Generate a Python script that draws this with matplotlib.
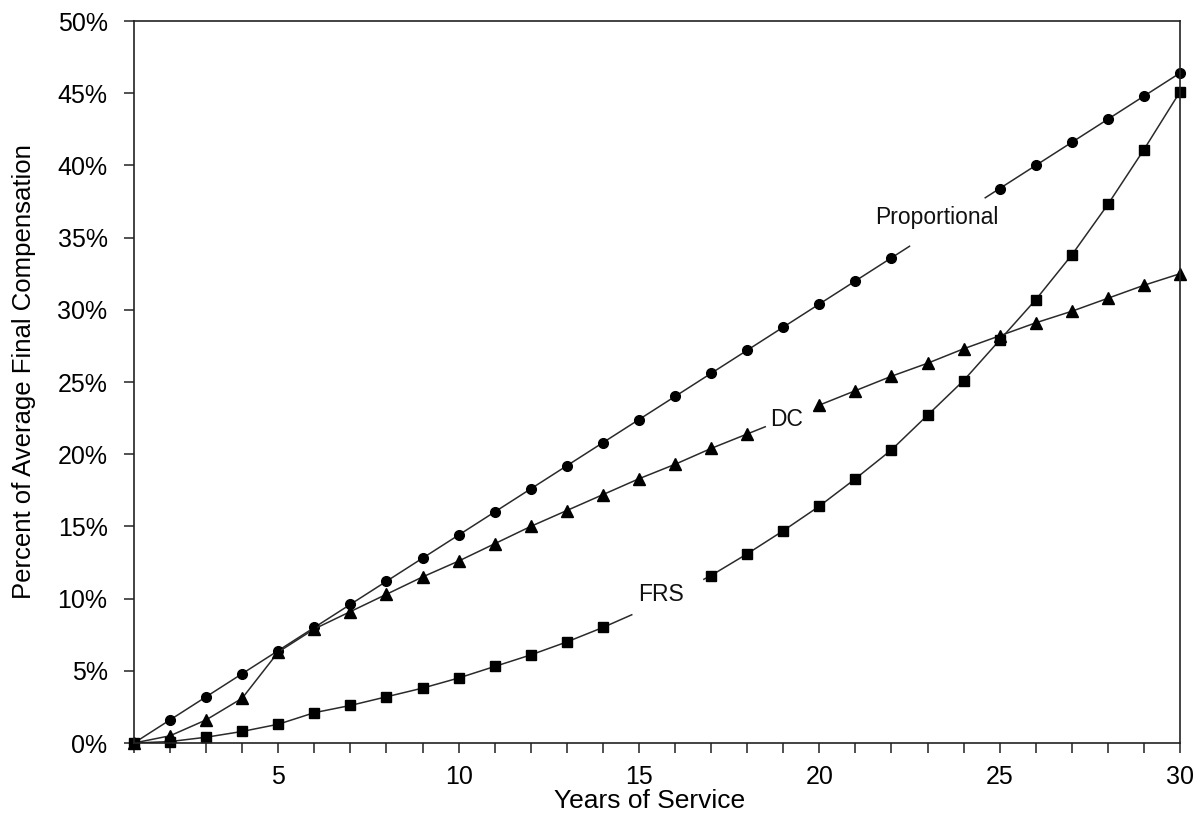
import numpy as np
import matplotlib
matplotlib.use("Agg")
import matplotlib.pyplot as plt
from matplotlib.ticker import FuncFormatter, MultipleLocator

plt.rcParams["font.family"] = ["Liberation Sans", "DejaVu Sans"]

years = np.arange(1, 31).astype(float)

proportional = [0.0, 1.6, 3.2, 4.8, 6.4, 8.0, 9.6, 11.2, 12.8, 14.4,
                16.0, 17.6, 19.2, 20.8, 22.4, 24.0, 25.6, 27.2, 28.8, 30.4,
                32.0, 33.6, 35.2, 36.8, 38.4, 40.0, 41.6, 43.2, 44.8, 46.4]
dc = [0.0, 0.5, 1.6, 3.1, 6.3, 7.9, 9.1, 10.3, 11.5, 12.6,
      13.8, 15.0, 16.1, 17.2, 18.3, 19.3, 20.4, 21.4, 22.4, 23.4,
      24.4, 25.4, 26.3, 27.3, 28.2, 29.1, 29.9, 30.8, 31.7, 32.5]
frs = [0.0, 0.1, 0.4, 0.8, 1.3, 2.1, 2.6, 3.2, 3.8, 4.5,
       5.3, 6.1, 7.0, 8.0, 9.1, 10.3, 11.6, 13.1, 14.7, 16.4,
       18.3, 20.3, 22.7, 25.1, 27.9, 30.7, 33.8, 37.3, 41.1, 45.1]

# name, values, marker, gap in the line where the label sits, label position
series = [
    ("Proportional", proportional, "o", (22.5, 24.6), (23.25, 36.4)),
    ("DC", dc, "^", (18.5, 19.95), (19.1, 22.4)),
    ("FRS", frs, "s", (14.8, 16.8), (15.6, 10.25)),
]

fig = plt.figure(figsize=(11.94, 8.21), dpi=100)
ax = fig.add_axes([0.1122, 0.095, 0.8761, 0.8794])

for name, vals, mk, (g0, g1), (lx, ly) in series:
    vals = np.array(vals, dtype=float)
    left = years <= g0
    right = years >= g1
    xl = np.append(years[left], g0)
    yl = np.append(vals[left], np.interp(g0, years, vals))
    xr = np.insert(years[right], 0, g1)
    yr = np.insert(vals[right], 0, np.interp(g1, years, vals))
    ms = 8 if mk == "^" else 7
    ax.plot(xl, yl, color="#2a2a2a", lw=1.1)
    ax.plot(xr, yr, color="#2a2a2a", lw=1.1)
    keep = left | right
    ax.plot(years[keep], vals[keep], ls="none", marker=mk, ms=ms,
            color="black", clip_on=False)
    ax.text(lx, ly, name, fontsize=16.5, ha="center", va="center",
            color="#111111")

ax.set_xlim(1, 30)
ax.set_ylim(0, 50)
ax.xaxis.set_major_locator(MultipleLocator(5))
ax.xaxis.set_minor_locator(MultipleLocator(1))
ax.yaxis.set_major_locator(MultipleLocator(5))
ax.yaxis.set_major_formatter(FuncFormatter(lambda v, p: f"{v:.0f}%"))
ax.tick_params(axis="both", which="both", direction="out", labelsize=18,
               color="#222222", width=1.1)
ax.tick_params(axis="both", which="major", length=7)
ax.tick_params(axis="x", which="minor", length=7)
ax.tick_params(axis="x", pad=9)
ax.tick_params(axis="y", pad=12)
for s in ax.spines.values():
    s.set_linewidth(1.2)
    s.set_color("#222222")

ax.set_xlabel("Years of Service", fontsize=19, va="center")
ax.xaxis.set_label_coords(0.493, -0.08)
ax.set_ylabel("Percent of Average Final Compensation", fontsize=18.5,
              va="center")
ax.yaxis.set_label_coords(-0.105, 0.514)

fig.savefig("out.png", dpi=100, facecolor="white")
